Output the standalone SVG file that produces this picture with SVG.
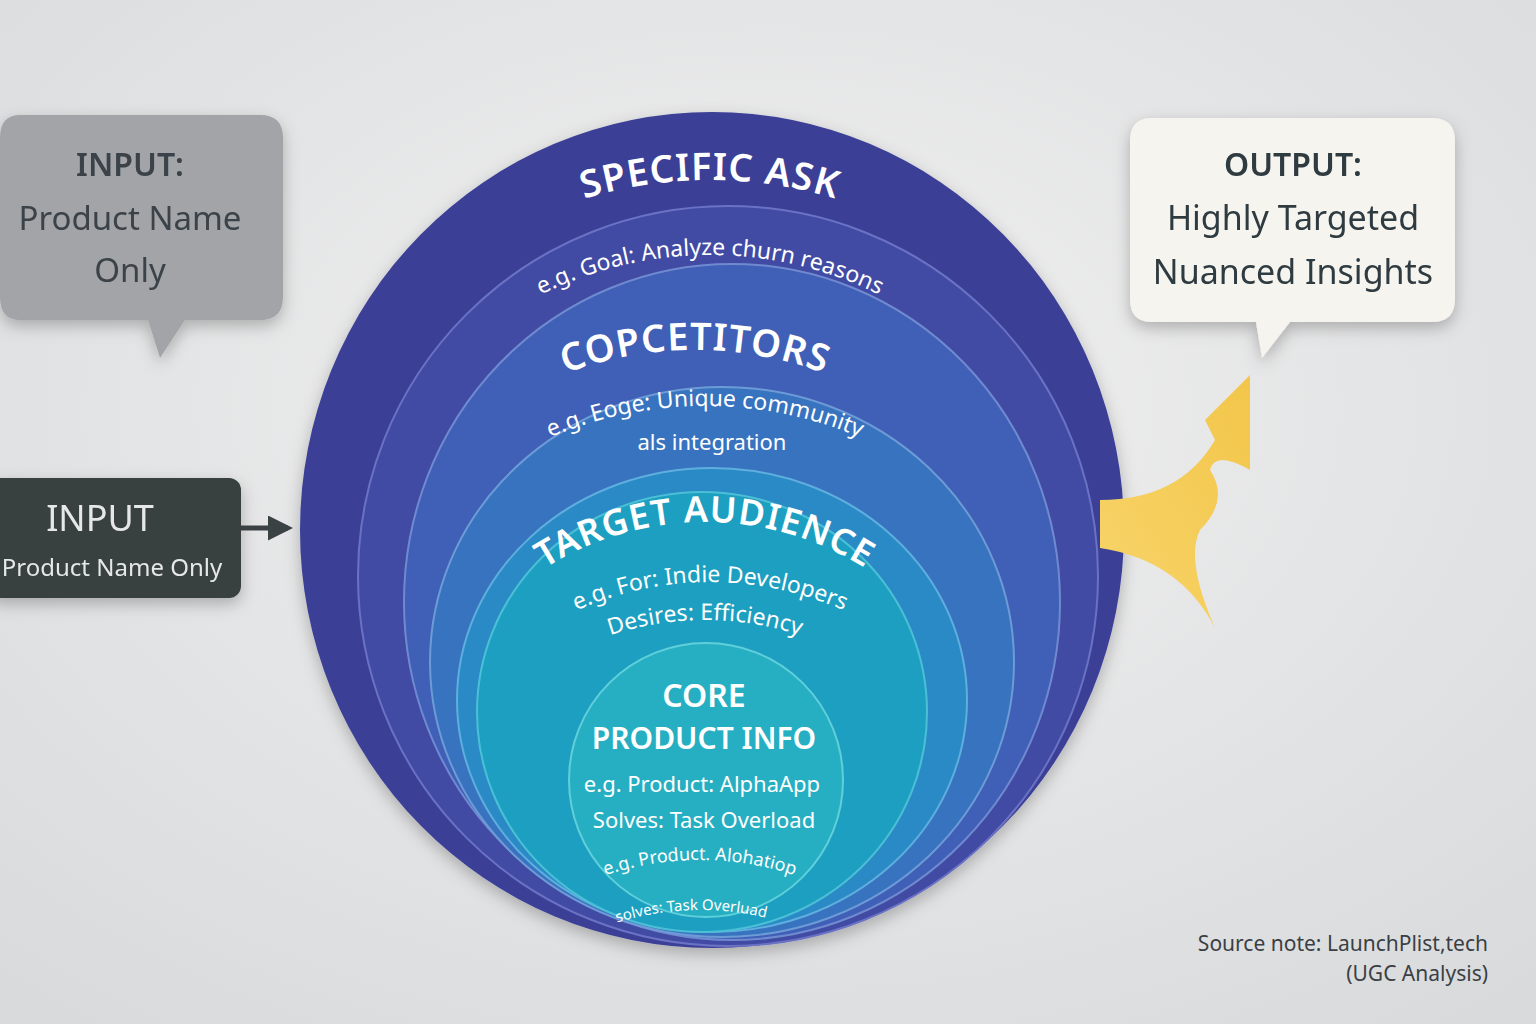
<svg xmlns="http://www.w3.org/2000/svg" width="1536" height="1024" viewBox="0 0 1536 1024">
<defs>
<radialGradient id="bg" cx="50%" cy="40%" r="75%"><stop offset="0" stop-color="#f1f1f1"/><stop offset="1" stop-color="#d9dadc"/></radialGradient>
<linearGradient id="yel" x1="0" y1="1" x2="1" y2="0"><stop offset="0" stop-color="#f7d46a"/><stop offset="1" stop-color="#f3c64a"/></linearGradient>
<filter id="sh" x="-20%" y="-20%" width="140%" height="140%"><feDropShadow dx="0" dy="6" stdDeviation="8" flood-opacity="0.25"/></filter>
<marker id="ah" viewBox="0 0 10 10" refX="8" refY="5" markerWidth="5" markerHeight="5" orient="auto"><path d="M0 0L10 5L0 10z" fill="#3a4243"/></marker>
<path id="a1" d="M280 610 A430 430 0 0 1 1140 610"/>
<path id="a2" d="M330 635 A380 380 0 0 1 1090 635"/>
<path id="a3" d="M325 720 A370 370 0 0 1 1065 720"/>
<path id="a4" d="M305 806 A400 400 0 0 1 1105 806"/>
<path id="a5" d="M405 822 A300 300 0 0 1 1005 822"/>
<path id="a6" d="M380 912 A330 330 0 0 1 1040 912"/>
<path id="a7" d="M405 920 A300 300 0 0 1 1005 920"/>
<path id="a8" d="M400 1160 A300 300 0 0 1 1000 1160"/>
<path id="a9" d="M420 1190 A280 280 0 0 1 980 1190"/>
</defs>
<style>
.t{font-family:"Noto Sans","Liberation Sans",sans-serif;text-anchor:middle}
.w{fill:#ffffff}
.h{font-weight:600;font-size:38px;letter-spacing:1px}
.s{font-size:23px}
</style>
<rect width="1536" height="1024" fill="url(#bg)"/>
<g id="layers" filter="url(#sh)">
<ellipse cx="712" cy="530" rx="412" ry="418" fill="#3b3f96"/>
<ellipse cx="728" cy="576" rx="370" ry="370" fill="#424ba4" stroke="#6a72c4" stroke-width="2"/>
<ellipse cx="732" cy="602" rx="328" ry="338" fill="#3f5fb6" stroke="#6f8ad0" stroke-width="2"/>
<ellipse cx="722" cy="662" rx="292" ry="275" fill="#3873c0" stroke="#6d9bd6" stroke-width="2"/>
<ellipse cx="712" cy="700" rx="255" ry="232" fill="#2a8ac6" stroke="#5eaede" stroke-width="2"/>
<ellipse cx="702" cy="712" rx="225" ry="220" fill="#1f9fc0" stroke="#4cbfd6" stroke-width="2"/>
<circle id="core" cx="706" cy="780" r="137" fill="#27afc2" stroke="#5fd0db" stroke-width="2"/>
</g>
<g id="layer-text">
<text class="t w h" font-size="42"><textPath href="#a1" startOffset="50%">SPECIFIC ASK</textPath></text>
<text class="t w s"><textPath href="#a2" startOffset="50%">e.g. Goal: Analyze churn reasons</textPath></text>
<text class="t w h"><textPath href="#a3" startOffset="50%">COPCETITORS</textPath></text>
<text class="t w s"><textPath href="#a4" startOffset="50%">e.g. Eoge: Unique community</textPath></text>
<text class="t w" font-size="22" x="712" y="450">als integration</text>
<text class="t w h" style="font-size:36px"><textPath href="#a5" startOffset="50%">TARGET AUDIENCE</textPath></text>
<text class="t w s"><textPath href="#a6" startOffset="50%">e.g. For: Indie Developers</textPath></text>
<text class="t w s"><textPath href="#a7" startOffset="50%">Desires: Efficiency</textPath></text>
<text class="t w" font-size="32" font-weight="600" x="704" y="707">CORE</text>
<text class="t w" font-size="30" font-weight="600" x="704" y="749">PRODUCT INFO</text>
<text class="t w" font-size="22" x="702" y="792">e.g. Product: AlphaApp</text>
<text class="t w" font-size="22" x="704" y="828">Solves: Task Overload</text>
<text class="t w" font-size="18"><textPath href="#a8" startOffset="50%">e.g. Product. Alohatiop</textPath></text>
<text class="t w" font-size="15"><textPath href="#a9" startOffset="49%">solves: Task Overluad</textPath></text>
</g>
<g id="input-bubble" filter="url(#sh)">
<path d="M20 115H260Q283 115 283 138V297Q283 320 260 320H185L160 358L148 320H20Q0 320 0 297V138Q0 115 20 115Z" fill="#a2a4a7"/>
<text class="t" fill="#3b4248" font-size="32" font-weight="600" x="130" y="176">INPUT:</text>
<text class="t" fill="#3b4248" font-size="33" x="130" y="230">Product Name</text>
<text class="t" fill="#3b4248" font-size="33" x="130" y="282">Only</text>
</g>
<g id="input-box" filter="url(#sh)">
<rect x="-12" y="478" width="253" height="120" rx="12" fill="#38403f"/>
<text class="t" fill="#e6e8e8" font-size="36" x="100" y="531">INPUT</text>
<text class="t" fill="#e6e8e8" font-size="24" x="112" y="576">Product Name Only</text>
</g>
<g id="output-bubble" filter="url(#sh)">
<path d="M1152 118H1432Q1455 118 1455 141V299Q1455 322 1432 322H1290L1262 358L1256 322H1152Q1130 322 1130 299V141Q1130 118 1152 118Z" fill="#f6f4ee"/>
<text class="t" fill="#2f3a40" font-size="32" font-weight="600" x="1293" y="176">OUTPUT:</text>
<text class="t" fill="#2f3a40" font-size="34" x="1293" y="230">Highly Targeted</text>
<text class="t" fill="#2f3a40" font-size="34" x="1293" y="284">Nuanced Insights</text>
</g>
<g id="connectors">
<line x1="241" y1="528" x2="288" y2="528" stroke="#3a4243" stroke-width="5" marker-end="url(#ah)"/>
<path d="M1100 500Q1180 500 1215 440L1205 420L1250 375L1250 470Q1215 450 1210 470Q1230 500 1200 530Q1185 560 1215 628Q1180 560 1100 548Z" fill="url(#yel)"/>
</g>
<g id="source">
<text font-family="Noto Sans,Liberation Sans,sans-serif" font-size="21" fill="#3a3f44" text-anchor="end" x="1488" y="951">Source note: LaunchPlist,tech</text>
<text font-family="Noto Sans,Liberation Sans,sans-serif" font-size="21" fill="#3a3f44" text-anchor="end" x="1488" y="981">(UGC Analysis)</text>
</g>
</svg>
